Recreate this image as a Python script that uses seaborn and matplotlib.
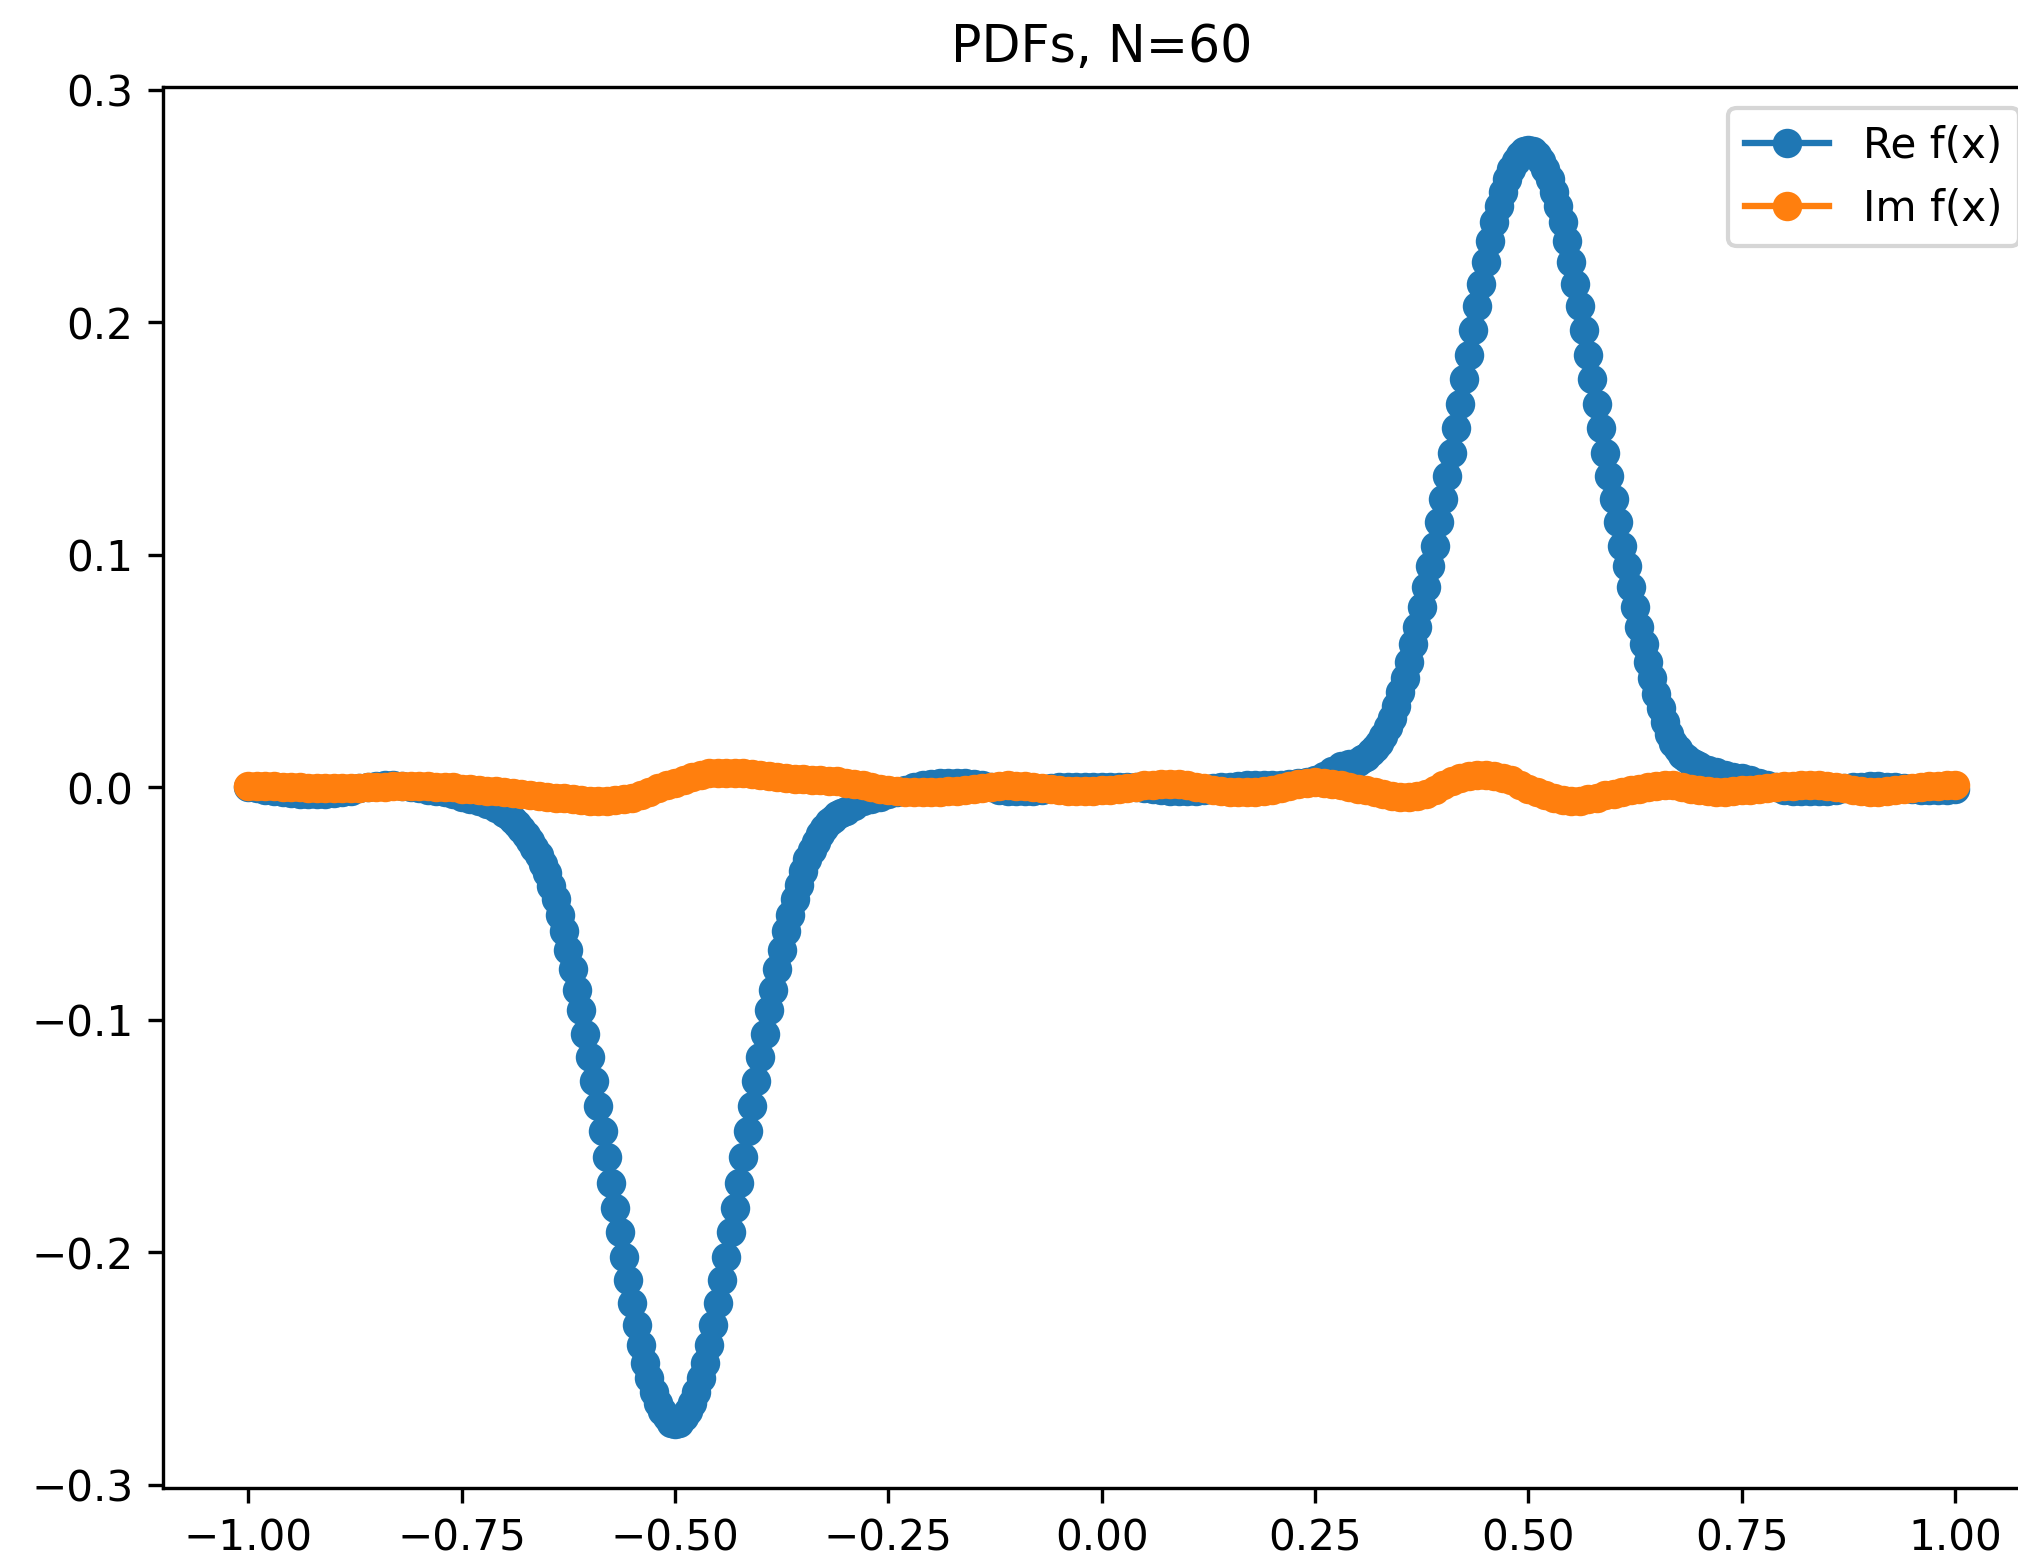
import numpy as np
import matplotlib
matplotlib.use("Agg")
import matplotlib.pyplot as plt
import seaborn as sns

# ---- Real part of f(x): sampled finer where the curve is steep ----
re_x_left = np.linspace(-1.0, -0.70, 31)
re_left = [
    0.0, -0.0005, -0.001, -0.0015, -0.002, -0.0025, -0.003, -0.003, -0.003, -0.003,
    -0.0025, -0.002, -0.0015, -0.0005, 0.0, 0.0005, 0.001, 0.001, 0.0005, 0.0,
    -0.0005, -0.001, -0.0015, -0.002, -0.003, -0.004, -0.005, -0.006, -0.007, -0.009,
    -0.011,
]

re_x_dip = np.linspace(-0.695, -0.305, 79)
re_dip = [
    -0.0125, -0.014, -0.016, -0.018, -0.0205, -0.023, -0.026, -0.029, -0.033, -0.037,
    -0.0425, -0.048, -0.055, -0.062, -0.070, -0.078, -0.087, -0.096, -0.106, -0.116,
    -0.1265, -0.137, -0.148, -0.159, -0.170, -0.181, -0.1915, -0.202, -0.212, -0.222,
    -0.2315, -0.240, -0.2475, -0.254, -0.260, -0.265, -0.2685, -0.271, -0.2733, -0.274,
    -0.2733, -0.271, -0.2685, -0.265, -0.260, -0.254, -0.2475, -0.240, -0.2315, -0.222,
    -0.212, -0.202, -0.1915, -0.181, -0.170, -0.159, -0.148, -0.137, -0.1265, -0.116,
    -0.106, -0.096, -0.087, -0.078, -0.070, -0.062, -0.055, -0.048, -0.042, -0.036,
    -0.031, -0.027, -0.0235, -0.020, -0.0175, -0.015, -0.0135, -0.012, -0.011,
]

re_x_mid = np.linspace(-0.30, 0.30, 61)
re_mid = [
    -0.010, -0.008, -0.006, -0.005, -0.004, -0.003, -0.002, -0.001, 0.0, 0.001,
    0.0015, 0.002, 0.002, 0.002, 0.002, 0.0015, 0.001, 0.0, -0.001, -0.0015,
    -0.0017, -0.0017, -0.0015, -0.001, -0.0005, 0.0, 0.0, 0.0, 0.0, 0.0,
    0.0, 0.0, 0.0, 0.0, 0.0, -0.0003, -0.0006, -0.001, -0.0015, -0.0017,
    -0.0017, -0.0015, -0.001, -0.0005, 0.0, 0.0003, 0.0005, 0.0008, 0.001, 0.001,
    0.001, 0.0012, 0.0015, 0.0018, 0.0022, 0.003, 0.005, 0.007, 0.009, 0.010,
    0.011,
]

re_x_peak = np.linspace(0.305, 0.695, 79)
re_peak = [
    0.012, 0.013, 0.015, 0.017, 0.019, 0.022, 0.026, 0.030, 0.035, 0.041,
    0.047, 0.054, 0.0615, 0.069, 0.0775, 0.086, 0.095, 0.104, 0.114, 0.124,
    0.134, 0.144, 0.1545, 0.165, 0.1755, 0.186, 0.1965, 0.207, 0.2165, 0.226,
    0.235, 0.243, 0.250, 0.256, 0.2615, 0.266, 0.2695, 0.272, 0.2735, 0.274,
    0.2735, 0.272, 0.2695, 0.266, 0.2615, 0.256, 0.250, 0.243, 0.235, 0.226,
    0.2165, 0.207, 0.1965, 0.186, 0.1755, 0.165, 0.1545, 0.144, 0.134, 0.124,
    0.114, 0.104, 0.095, 0.086, 0.0775, 0.069, 0.0615, 0.054, 0.047, 0.040,
    0.034, 0.028, 0.023, 0.019, 0.0165, 0.014, 0.0125, 0.011, 0.010,
]

re_x_right = np.linspace(0.70, 1.0, 31)
re_right = [
    0.009, 0.0075, 0.0065, 0.0055, 0.0045, 0.004, 0.003, 0.002, 0.001, 0.0,
    -0.001, -0.0015, -0.0017, -0.0017, -0.0017, -0.0015, -0.001, -0.0005, 0.0, 0.0003,
    0.0005, 0.0005, 0.0003, 0.0, -0.0003, -0.0006, -0.001, -0.0012, -0.0012, -0.001,
    -0.0008,
]

# ---- Imaginary part of f(x), step 0.01 ----
im_x = np.linspace(-1.0, 1.0, 201)
im_f = [
    0.0005, 0.0005, 0.0005, 0.0004, 0.0003, 0.0001, 0.0, -0.0002, -0.0004, -0.0005,
    -0.0005, -0.0004, -0.0003, -0.0001, 0.0, 0.0002, 0.0003, 0.0004, 0.0005, 0.0005,
    0.0005, 0.0004, 0.0003, 0.0001, 0.0, -0.0006, -0.0009, -0.0012, -0.0015, -0.0018,
    -0.002, -0.0024, -0.0028, -0.0032, -0.0036, -0.004, -0.0044, -0.0048, -0.0052, -0.0056,
    -0.006, -0.006, -0.0058, -0.0055, -0.005, -0.0045, -0.0035, -0.002, -0.0005, 0.001,
    0.002, 0.003, 0.0045, 0.0055, 0.006, 0.006, 0.006, 0.006, 0.006, 0.0058,
    0.0055, 0.005, 0.0045, 0.004, 0.0037, 0.0035, 0.0033, 0.003, 0.0028, 0.0025,
    0.002, 0.0015, 0.0008, 0.0, -0.0008, -0.0013, -0.0017, -0.0019, -0.002, -0.002,
    -0.002, -0.0019, -0.0017, -0.0015, -0.0013, -0.0008, -0.0003, 0.0002, 0.0007, 0.001,
    0.0007, 0.0004, 0.0, -0.0004, -0.0008, -0.0012, -0.0017, -0.0017, -0.0016, -0.0015,
    -0.0013, -0.001, -0.0006, -0.0002, 0.0002, 0.001, 0.0012, 0.0014, 0.0015, 0.0015,
    0.001, 0.0003, -0.0005, -0.0012, -0.0018, -0.002, -0.002, -0.002, -0.002, -0.0017,
    -0.0013, -0.0005, 0.0005, 0.0015, 0.002, 0.0023, 0.002, 0.0015, 0.0008, 0.0,
    -0.0006, -0.0012, -0.002, -0.003, -0.0036, -0.004, -0.004, -0.0037, -0.003, -0.001,
    0.001, 0.0025, 0.0038, 0.0048, 0.0054, 0.0054, 0.005, 0.004, 0.003, 0.0012,
    -0.0006, -0.002, -0.0035, -0.0048, -0.0056, -0.006, -0.0058, -0.0052, -0.0045, -0.0035,
    -0.0027, -0.002, -0.0013, -0.0006, 0.0, 0.0005, 0.001, 0.001, 0.0002, -0.0006,
    -0.0013, -0.0017, -0.002, -0.002, -0.0017, -0.0013, -0.001, -0.0006, -0.0003, 0.0,
    0.0004, 0.0007, 0.001, 0.001, 0.0008, 0.0005, 0.0, -0.0005, -0.001, -0.0015,
    -0.002, -0.002, -0.0017, -0.0012, -0.0008, -0.0005, 0.0, 0.0004, 0.0007, 0.0009,
    0.001,
]

re_x = np.concatenate([re_x_left, re_x_dip, re_x_mid, re_x_peak, re_x_right])
re_f = np.array(re_left + re_dip + re_mid + re_peak + re_right)

series_labels = ["Re f(x)", "Im f(x)"]
series_colors = ["#1f77b4", "#ff7f0e"]
title_text = "PDFs, N=60"

DPI = 303
fig = plt.figure(figsize=(2018.4 / DPI, 1560.4 / DPI), dpi=DPI)
# axes run slightly past the right edge of the canvas
ax = fig.add_axes([163 / 2018, 72 / 1560, 1877 / 2018, 1401 / 1560])

for xs, ys, lab, col in zip([re_x, im_x], [re_f, im_f], series_labels, series_colors):
    sns.lineplot(
        x=xs, y=ys, ax=ax, color=col, marker="o",
        markersize=6, markeredgewidth=1.0, markeredgecolor=col,
        linewidth=1.5, label=lab, estimator=None, sort=False,
    )

ax.set_title(title_text, fontsize=12)
ax.legend(loc="upper right", fontsize=10)
ax.tick_params(labelsize=10)

fig.savefig("out.png", dpi=DPI)
